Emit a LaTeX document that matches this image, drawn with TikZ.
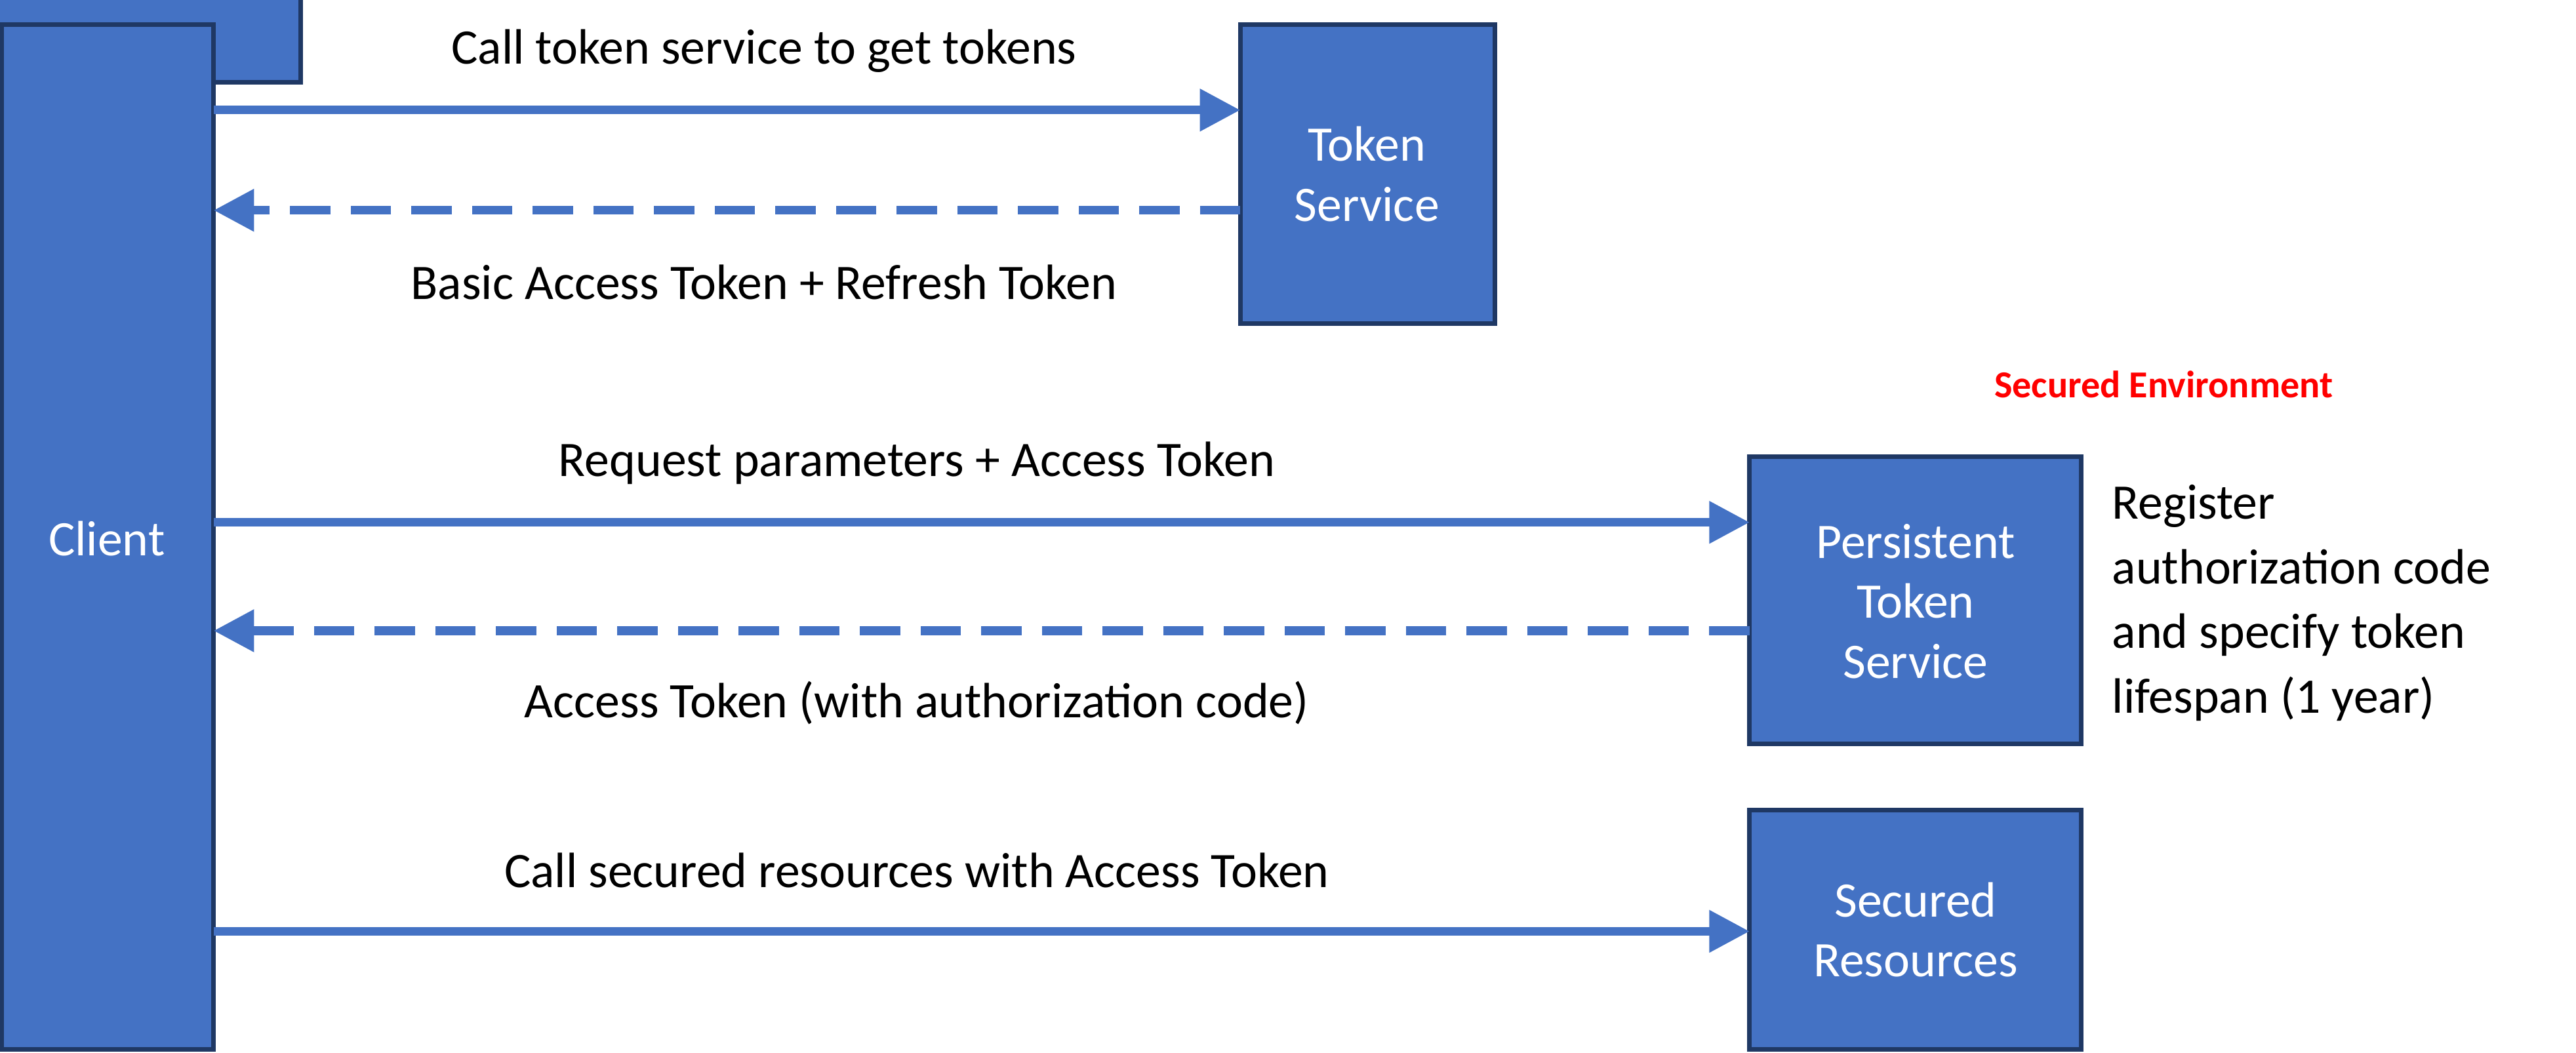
\documentclass[tikz,border=0pt]{standalone}
\usepackage{fontspec}
\setmainfont{Carlito}
\usetikzlibrary{arrows.meta}
\definecolor{boxblue}{HTML}{4472C4}
\definecolor{boxline}{HTML}{1F3864}
\tikzset{
  box/.style={draw=boxline,fill=boxblue,line width=0.8pt,text=white,align=center,inner sep=0pt,font=\fontsize{8.6}{10.4}\selectfont},
  lbl/.style={font=\fontsize{8.6}{10.4}\selectfont,inner sep=0pt},
  msg/.style={draw=boxblue,line width=1.5pt,-{Triangle[length=7pt,width=7pt]}},
  reply/.style={msg,dash pattern=on 7pt off 3.5pt}
}
\begin{document}
\begin{tikzpicture}[x=0.01cm,y=-0.01cm]
  \useasboundingbox (0,0) rectangle (1568,641);
  \node[box,minimum width=130\pgflinewidth,minimum height=1cm] (client) at (0,0) {};
  \path[box] (1,15) rectangle (130,639);
  \node[text=white,lbl] (cl) at (65,328) {Client};
  \path[box] (755,15) rectangle (910,197);
  \node[box,draw=none,fill=none] (ts) at (832,106) {Token\\Service};
  \path[box] (1065,278) rectangle (1267,453);
  \node[box,draw=none,fill=none] (pts) at (1166,366) {Persistent\\Token\\Service};
  \path[box] (1065,493) rectangle (1267,639);
  \node[box,draw=none,fill=none] (sr) at (1166,566) {Secured\\Resources};
  % connectors
  \coordinate (c1) at (130,67);  \coordinate (t1) at (755,67);
  \coordinate (c2) at (130,128); \coordinate (t2) at (755,128);
  \coordinate (c3) at (130,318); \coordinate (p3) at (1065,318);
  \coordinate (c4) at (130,384); \coordinate (p4) at (1065,384);
  \coordinate (c5) at (130,567); \coordinate (s5) at (1065,567);
  \draw[msg] (c1) -- (t1);
  \draw[reply] (t2) -- (c2);
  \draw[msg] (c3) -- (p3);
  \draw[reply] (p4) -- (c4);
  \draw[msg] (c5) -- (s5);
  % labels
  \node[lbl] (l1) at (465,31) {Call token service to get tokens};
  \node[lbl] (l2) at (465,172) {Basic Access Token + Refresh Token};
  \node[lbl,text=red,font=\fontsize{6.6}{8}\selectfont\bfseries] (env) at (1317,234) {Secured Environment};
  \node[lbl] (l3) at (558,282) {Request parameters + Access Token};
  \node[lbl] (l4) at (558,428) {Access Token (with authorization code)};
  \node[lbl,anchor=west,align=left,font=\fontsize{8.6}{11.2}\selectfont] (reg) at (1285,367) {Register\\authorization code\\and specify token\\lifespan (1 year)};
  \node[lbl] (l5) at (558,530) {Call secured resources with Access Token};
\end{tikzpicture}
\end{document}
